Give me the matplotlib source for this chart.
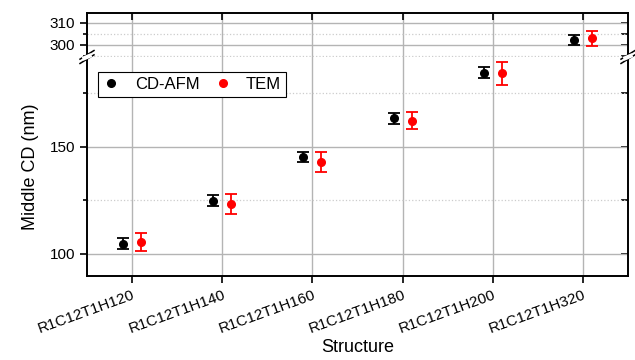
import numpy as np
import matplotlib.pyplot as plt
from matplotlib.lines import Line2D
from matplotlib.ticker import MultipleLocator

plt.rcParams['font.family'] = ['Liberation Sans', 'DejaVu Sans']

# data
structures = ["R1C12T1H120", "R1C12T1H140", "R1C12T1H160",
              "R1C12T1H180", "R1C12T1H200", "R1C12T1H320"]
afm_cd = [104.7, 124.8, 145.3, 163.4, 184.7, 302.3]
afm_err = [2.6, 2.6, 2.4, 2.6, 2.6, 2.4]
tem_cd = [105.6, 123.2, 142.9, 162.3, 184.3, 303.0]
tem_err = [4.4, 4.7, 4.5, 4.1, 5.3, 3.3]

x = np.arange(1, len(structures) + 1)
off = 0.1

fig = plt.figure(figsize=(6.35, 3.6), dpi=100)
L, W = 87 / 635, (628 - 87) / 635
yb = (360 - 276) / 360
ybrk = (360 - 57) / 360
ytop = (360 - 13) / 360
ax = fig.add_axes([L, yb, W, ybrk - yb])
axu = fig.add_axes([L, ybrk, W, ytop - ybrk], sharex=ax)

for a in (ax, axu):
    a.errorbar(x - off, afm_cd, yerr=afm_err, fmt='o', color='black',
               ms=5.5, elinewidth=1.3, capsize=4, capthick=1.3, zorder=3)
    a.errorbar(x + off, tem_cd, yerr=tem_err, fmt='o', color='red',
               ms=5.5, elinewidth=1.3, capsize=4, capthick=1.3, zorder=3)
    a.set_xlim(0.5, 6.5)
    a.grid(True, which='major', color='#b4b4b4', lw=1.0)
    a.grid(True, which='minor', axis='y', color='#cccccc', lw=0.9, ls=':')
    a.set_axisbelow(True)
    for s in a.spines.values():
        s.set_linewidth(1.4)
    a.tick_params(axis='y', which='both', labelsize=11, width=1.2,
                  direction='out', left=True, right=False)
    a.tick_params(axis='y', which='major', length=5)
    a.tick_params(axis='y', which='minor', length=3)

ax.set_ylim(89.7, 192)
ax.yaxis.set_major_locator(MultipleLocator(50))
ax.yaxis.set_minor_locator(MultipleLocator(25))
axu.set_ylim(294.5, 314.5)
axu.yaxis.set_major_locator(MultipleLocator(10))
axu.yaxis.set_minor_locator(MultipleLocator(5))

ax.spines['top'].set_visible(False)
axu.spines['bottom'].set_visible(False)

ax.set_xticks(x)
ax.set_xticklabels(structures, rotation=20, ha='right', rotation_mode='anchor')
ax.tick_params(axis='x', labelsize=11, length=5, width=1.2, direction='out',
               top=False, bottom=True)
axu.tick_params(axis='x', length=5, width=1.2, direction='in', top=True,
                bottom=False, labelbottom=False)

# right-side inward ticks
for a in (ax, axu):
    r = a.secondary_yaxis('right')
    r.set_yticks(list(a.get_yticks(minor=False)) + list(a.get_yticks(minor=True)))
    r.tick_params(direction='in', length=5, width=1.2, labelright=False)
    r.spines['right'].set_visible(False)

ax.set_ylabel("Middle CD (nm)", fontsize=13, labelpad=8)
ax.set_xlabel("Structure", fontsize=13, labelpad=2)

# axis break marks
for xb in (L, L + W):
    for dy in (-0.006, 0.006):
        fig.add_artist(Line2D([xb - 0.011, xb + 0.011],
                              [ybrk + dy - 0.012, ybrk + dy + 0.012],
                              color='black', lw=1.1, transform=fig.transFigure))
    fig.add_artist(Line2D([xb - 0.004, xb + 0.004], [ybrk - 0.003, ybrk + 0.003],
                          color='white', lw=3, transform=fig.transFigure))

handles = [Line2D([], [], marker='o', ls='none', color='black', ms=5.5),
           Line2D([], [], marker='o', ls='none', color='red', ms=5.5)]
fig.legend(handles, ["CD-AFM", "TEM"], ncol=2, fontsize=12,
           loc='upper left', bbox_to_anchor=(98 / 635, 288 / 360),
           borderaxespad=0, frameon=True, fancybox=False, edgecolor='black',
           framealpha=1, handlelength=1.0, handletextpad=0.9,
           columnspacing=0.9, borderpad=0.3).get_frame().set_linewidth(0.8)

fig.savefig("out.png", dpi=100)
